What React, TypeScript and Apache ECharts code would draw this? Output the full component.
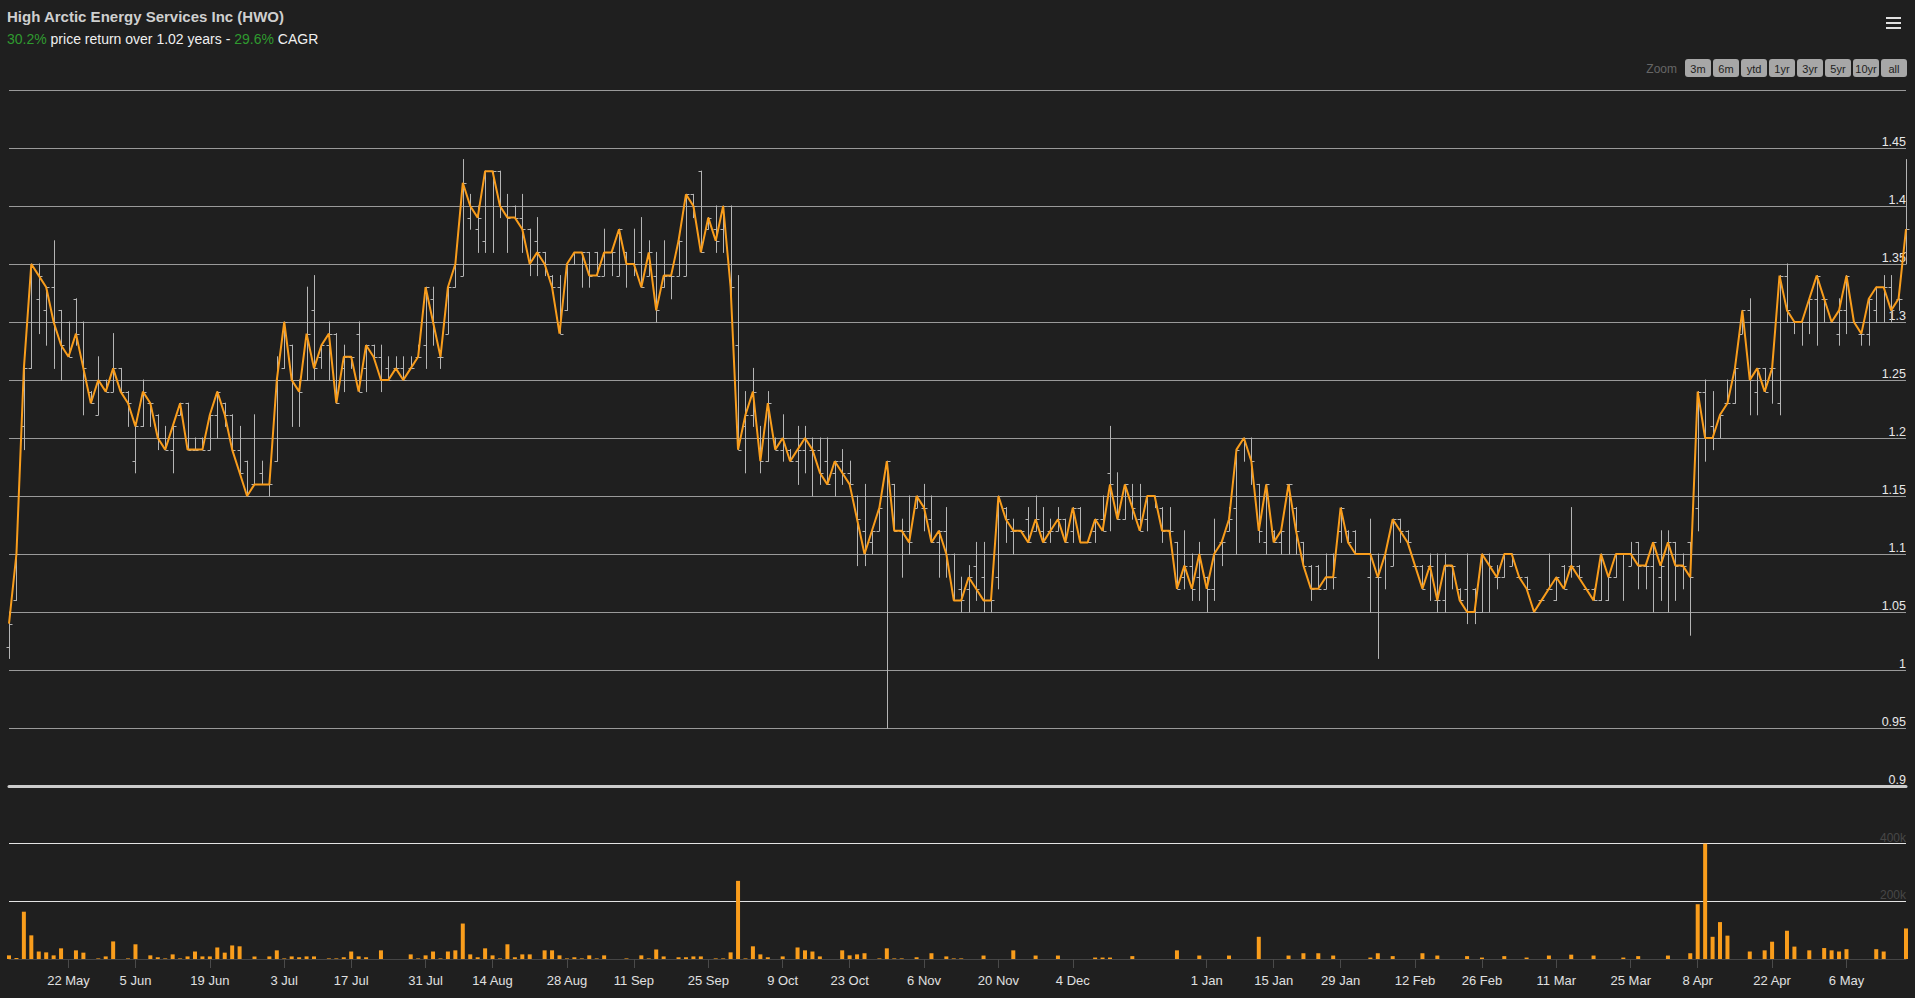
import React, { useEffect, useRef } from "react";
import * as echarts from "echarts";

const FONT = "'Liberation Sans', Arial, Helvetica, sans-serif";
const ORANGE = "#f99d1c";
const BAR_GREY = "#b4b4b4";

const chartTitle = "High Arctic Energy Services Inc (HWO)";
const priceReturn = "30.2%";
const cagr = "29.6%";
const yearsText = "1.02";

const firstDay = "2017-05-10";
const lastDay = "2018-05-17";
const marketHolidays = [
  "2017-05-22", "2017-07-03", "2017-08-07", "2017-09-04", "2017-10-09",
  "2017-12-25", "2017-12-26", "2018-01-01", "2018-02-19", "2018-03-30",
];
const noTradeDays = ["2018-01-24"];

const tickDates = [
  "2017-05-22", "2017-06-05", "2017-06-19", "2017-07-03", "2017-07-17", "2017-07-31",
  "2017-08-14", "2017-08-28", "2017-09-11", "2017-09-25", "2017-10-09", "2017-10-23",
  "2017-11-06", "2017-11-20", "2017-12-04", "2018-01-01", "2018-01-15", "2018-01-29",
  "2018-02-12", "2018-02-26", "2018-03-11", "2018-03-25", "2018-04-08", "2018-04-22",
  "2018-05-06",
];
const tickLabels = [
  "22 May", "5 Jun", "19 Jun", "3 Jul", "17 Jul", "31 Jul",
  "14 Aug", "28 Aug", "11 Sep", "25 Sep", "9 Oct", "23 Oct",
  "6 Nov", "20 Nov", "4 Dec", "1 Jan", "15 Jan", "29 Jan",
  "12 Feb", "26 Feb", "11 Mar", "25 Mar", "8 Apr", "22 Apr",
  "6 May",
];

const zoomButtons = ["3m", "6m", "ytd", "1yr", "3yr", "5yr", "10yr", "all"];

const open = [
  1.02, 1.06, 1.21, 1.26, 1.32, 1.31, 1.33, 1.31, 1.30, 1.32,
  1.30, 1.24, 1.22, 1.25, 1.24, 1.26, 1.24, 1.18, 1.21, 1.23,
  1.22, 1.20, 1.19, 1.22, 1.23, 1.19, 1.20, 1.19, 1.22, 1.23,
  1.22, 1.19, 1.18, 1.16, 1.17, 1.16, 1.18, 1.26, 1.28, 1.25,
  1.25, 1.31, 1.27, 1.28, 1.29, 1.26, 1.27, 1.29, 1.26, 1.28,
  1.27, 1.26, 1.26, 1.26, 1.26, 1.27, 1.28, 1.32, 1.27, 1.29,
  1.33, 1.34, 1.39, 1.38, 1.37, 1.43, 1.43, 1.40, 1.40, 1.39,
  1.38, 1.37, 1.36, 1.34, 1.33, 1.31, 1.35, 1.36, 1.36, 1.36,
  1.34, 1.36, 1.34, 1.36, 1.35, 1.36, 1.34, 1.34, 1.33, 1.34,
  1.34, 1.34, 1.41, 1.43, 1.38, 1.38, 1.38, 1.40, 1.28, 1.21,
  1.22, 1.20, 1.18, 1.20, 1.19, 1.19, 1.18, 1.19, 1.19, 1.19,
  1.18, 1.17, 1.18, 1.17, 1.15, 1.12, 1.11, 1.12, 1.15, 1.16,
  1.12, 1.12, 1.14, 1.14, 1.13, 1.11, 1.12, 1.10, 1.07, 1.07,
  1.09, 1.08, 1.06, 1.08, 1.14, 1.12, 1.12, 1.13, 1.12, 1.12,
  1.12, 1.12, 1.13, 1.12, 1.14, 1.11, 1.12, 1.13, 1.17, 1.15,
  1.13, 1.15, 1.13, 1.13, 1.15, 1.14, 1.12, 1.11, 1.08, 1.09,
  1.08, 1.08, 1.07, 1.11, 1.12, 1.14, 1.20, 1.20, 1.16, 1.11,
  1.12, 1.11, 1.16, 1.14, 1.11, 1.09, 1.09, 1.07, 1.10, 1.12,
  1.12, 1.12, 1.10, 1.08, 1.08, 1.10, 1.09, 1.13, 1.12, 1.09,
  1.09, 1.09, 1.06, 1.06, 1.09, 1.07, 1.07, 1.07, 1.05, 1.10,
  1.08, 1.08, 1.09, 1.08, 1.08, 1.05, 1.06, 1.07, 1.06, 1.09,
  1.09, 1.09, 1.07, 1.07, 1.06, 1.06, 1.08, 1.10, 1.09, 1.11,
  1.09, 1.09, 1.08, 1.10, 1.11, 1.09, 1.11, 1.14, 1.24, 1.21,
  1.20, 1.23, 1.23, 1.29, 1.31, 1.24, 1.26, 1.26, 1.23, 1.34,
  1.30, 1.30, 1.30, 1.32, 1.32, 1.30, 1.29, 1.31, 1.30, 1.29,
  1.29, 1.31, 1.33, 1.33, 1.32, 1.36,
];

const high = [
  1.05, 1.10, 1.27, 1.35, 1.35, 1.33, 1.37, 1.31, 1.30, 1.32,
  1.30, 1.24, 1.27, 1.25, 1.29, 1.26, 1.24, 1.21, 1.25, 1.23,
  1.22, 1.21, 1.21, 1.23, 1.23, 1.20, 1.20, 1.22, 1.24, 1.23,
  1.22, 1.21, 1.18, 1.22, 1.18, 1.16, 1.27, 1.30, 1.28, 1.25,
  1.33, 1.34, 1.28, 1.30, 1.29, 1.28, 1.27, 1.30, 1.28, 1.28,
  1.28, 1.27, 1.27, 1.27, 1.27, 1.28, 1.33, 1.33, 1.27, 1.33,
  1.35, 1.44, 1.41, 1.40, 1.43, 1.43, 1.43, 1.41, 1.40, 1.41,
  1.38, 1.39, 1.36, 1.34, 1.34, 1.35, 1.36, 1.36, 1.36, 1.36,
  1.38, 1.36, 1.38, 1.36, 1.38, 1.39, 1.37, 1.36, 1.37, 1.34,
  1.37, 1.41, 1.41, 1.43, 1.39, 1.40, 1.40, 1.40, 1.34, 1.24,
  1.26, 1.21, 1.24, 1.20, 1.22, 1.19, 1.21, 1.21, 1.20, 1.20,
  1.20, 1.18, 1.19, 1.18, 1.15, 1.16, 1.12, 1.14, 1.18, 1.16,
  1.13, 1.15, 1.15, 1.16, 1.15, 1.12, 1.14, 1.10, 1.08, 1.09,
  1.11, 1.11, 1.06, 1.15, 1.14, 1.13, 1.12, 1.14, 1.15, 1.14,
  1.13, 1.14, 1.13, 1.14, 1.14, 1.11, 1.13, 1.15, 1.21, 1.17,
  1.16, 1.16, 1.16, 1.15, 1.15, 1.14, 1.14, 1.11, 1.12, 1.10,
  1.11, 1.08, 1.13, 1.11, 1.14, 1.19, 1.20, 1.20, 1.16, 1.16,
  1.12, 1.12, 1.16, 1.14, 1.11, 1.09, 1.09, 1.10, 1.10, 1.14,
  1.12, 1.12, 1.10, 1.13, 1.10, 1.10, 1.13, 1.13, 1.12, 1.09,
  1.09, 1.10, 1.10, 1.10, 1.09, 1.07, 1.10, 1.07, 1.10, 1.10,
  1.09, 1.10, 1.10, 1.08, 1.08, 1.05, 1.06, 1.10, 1.08, 1.09,
  1.14, 1.09, 1.07, 1.07, 1.10, 1.08, 1.10, 1.10, 1.11, 1.11,
  1.09, 1.11, 1.12, 1.12, 1.11, 1.10, 1.11, 1.24, 1.25, 1.24,
  1.22, 1.25, 1.26, 1.31, 1.32, 1.26, 1.26, 1.26, 1.34, 1.35,
  1.30, 1.30, 1.32, 1.34, 1.32, 1.30, 1.32, 1.34, 1.30, 1.29,
  1.32, 1.33, 1.34, 1.34, 1.32, 1.44,
];

const low = [
  1.01, 1.06, 1.19, 1.26, 1.29, 1.28, 1.26, 1.25, 1.27, 1.28,
  1.22, 1.23, 1.22, 1.24, 1.24, 1.24, 1.21, 1.17, 1.21, 1.21,
  1.19, 1.19, 1.17, 1.22, 1.19, 1.19, 1.19, 1.19, 1.20, 1.21,
  1.19, 1.17, 1.15, 1.16, 1.16, 1.15, 1.18, 1.26, 1.21, 1.21,
  1.25, 1.25, 1.26, 1.25, 1.23, 1.24, 1.26, 1.24, 1.24, 1.27,
  1.24, 1.25, 1.26, 1.25, 1.26, 1.27, 1.26, 1.28, 1.26, 1.29,
  1.33, 1.34, 1.38, 1.36, 1.36, 1.36, 1.39, 1.36, 1.39, 1.36,
  1.34, 1.34, 1.34, 1.33, 1.29, 1.31, 1.35, 1.33, 1.33, 1.34,
  1.34, 1.34, 1.34, 1.33, 1.34, 1.33, 1.34, 1.30, 1.33, 1.32,
  1.34, 1.34, 1.39, 1.36, 1.38, 1.36, 1.36, 1.32, 1.19, 1.17,
  1.21, 1.17, 1.18, 1.19, 1.18, 1.18, 1.16, 1.17, 1.15, 1.16,
  1.16, 1.15, 1.16, 1.16, 1.09, 1.09, 1.10, 1.12, 0.95, 1.12,
  1.08, 1.10, 1.14, 1.12, 1.11, 1.08, 1.08, 1.06, 1.05, 1.05,
  1.06, 1.05, 1.05, 1.07, 1.11, 1.10, 1.12, 1.11, 1.12, 1.11,
  1.11, 1.12, 1.11, 1.11, 1.11, 1.11, 1.11, 1.12, 1.12, 1.13,
  1.13, 1.13, 1.12, 1.12, 1.14, 1.11, 1.11, 1.07, 1.07, 1.06,
  1.06, 1.05, 1.06, 1.09, 1.12, 1.10, 1.18, 1.16, 1.11, 1.10,
  1.11, 1.10, 1.10, 1.10, 1.09, 1.06, 1.07, 1.07, 1.07, 1.11,
  1.11, 1.10, 1.10, 1.05, 1.01, 1.07, 1.09, 1.11, 1.11, 1.09,
  1.07, 1.06, 1.05, 1.05, 1.07, 1.06, 1.04, 1.04, 1.05, 1.05,
  1.07, 1.08, 1.09, 1.08, 1.07, 1.05, 1.06, 1.07, 1.06, 1.07,
  1.08, 1.08, 1.07, 1.06, 1.06, 1.06, 1.08, 1.06, 1.09, 1.07,
  1.07, 1.05, 1.06, 1.05, 1.06, 1.07, 1.03, 1.12, 1.18, 1.19,
  1.20, 1.23, 1.23, 1.29, 1.22, 1.22, 1.24, 1.23, 1.22, 1.30,
  1.29, 1.28, 1.29, 1.28, 1.30, 1.30, 1.28, 1.29, 1.30, 1.28,
  1.28, 1.30, 1.30, 1.30, 1.31, 1.35,
];

const close = [
  1.04, 1.10, 1.26, 1.35, 1.34, 1.33, 1.30, 1.28, 1.27, 1.29,
  1.26, 1.23, 1.25, 1.24, 1.26, 1.24, 1.23, 1.21, 1.24, 1.23,
  1.20, 1.19, 1.21, 1.23, 1.19, 1.19, 1.19, 1.22, 1.24, 1.22,
  1.19, 1.17, 1.15, 1.16, 1.16, 1.16, 1.25, 1.30, 1.25, 1.24,
  1.29, 1.26, 1.28, 1.29, 1.23, 1.27, 1.27, 1.24, 1.28, 1.27,
  1.25, 1.25, 1.26, 1.25, 1.26, 1.27, 1.33, 1.30, 1.27, 1.33,
  1.35, 1.42, 1.40, 1.39, 1.43, 1.43, 1.40, 1.39, 1.39, 1.38,
  1.35, 1.36, 1.35, 1.33, 1.29, 1.35, 1.36, 1.36, 1.34, 1.34,
  1.36, 1.36, 1.38, 1.35, 1.35, 1.33, 1.36, 1.31, 1.34, 1.34,
  1.37, 1.41, 1.40, 1.36, 1.39, 1.37, 1.40, 1.33, 1.19, 1.22,
  1.24, 1.18, 1.23, 1.19, 1.20, 1.18, 1.19, 1.20, 1.19, 1.17,
  1.16, 1.18, 1.17, 1.16, 1.13, 1.10, 1.12, 1.14, 1.18, 1.12,
  1.12, 1.11, 1.15, 1.14, 1.11, 1.12, 1.10, 1.06, 1.06, 1.08,
  1.07, 1.06, 1.06, 1.15, 1.13, 1.12, 1.12, 1.11, 1.13, 1.11,
  1.12, 1.13, 1.11, 1.14, 1.11, 1.11, 1.13, 1.12, 1.16, 1.13,
  1.16, 1.14, 1.12, 1.15, 1.15, 1.12, 1.12, 1.07, 1.09, 1.07,
  1.10, 1.07, 1.10, 1.11, 1.13, 1.19, 1.20, 1.18, 1.12, 1.16,
  1.11, 1.12, 1.16, 1.12, 1.09, 1.07, 1.07, 1.08, 1.08, 1.14,
  1.11, 1.10, 1.10, 1.10, 1.08, 1.10, 1.13, 1.12, 1.11, 1.09,
  1.07, 1.09, 1.06, 1.09, 1.09, 1.06, 1.05, 1.05, 1.10, 1.09,
  1.08, 1.10, 1.10, 1.08, 1.07, 1.05, 1.06, 1.07, 1.08, 1.07,
  1.09, 1.08, 1.07, 1.06, 1.10, 1.08, 1.10, 1.10, 1.10, 1.09,
  1.09, 1.11, 1.09, 1.11, 1.09, 1.09, 1.08, 1.24, 1.20, 1.20,
  1.22, 1.23, 1.26, 1.31, 1.25, 1.26, 1.24, 1.26, 1.34, 1.31,
  1.30, 1.30, 1.32, 1.34, 1.32, 1.30, 1.31, 1.34, 1.30, 1.29,
  1.32, 1.33, 1.33, 1.31, 1.32, 1.38,
];

const volume = [
  12600, 3400, 164000, 82000, 26000, 23000, 12600, 37000, 0, 30000,
  22000, 0, 2000, 9000, 61000, 0, 2000, 51000, 0, 12600,
  6000, 2000, 16000, 2000, 9000, 26000, 9000, 9000, 40000, 22000,
  47000, 44000, 0, 9000, 0, 9000, 30000, 2000, 9000, 6000,
  9000, 9000, 0, 2000, 2000, 6000, 26000, 9000, 6000, 0,
  30000, 0, 0, 0, 16000, 2000, 12600, 26000, 2000, 26000,
  30000, 123000, 16000, 6000, 37000, 12600, 2000, 51000, 6000, 16000,
  16000, 0, 30000, 30000, 12600, 2000, 6000, 2000, 12600, 2000,
  12600, 0, 0, 2000, 0, 12600, 2000, 33000, 9000, 0,
  6000, 6000, 9000, 9000, 0, 2000, 2000, 23000, 271000, 2000,
  44000, 16000, 6000, 0, 9000, 0, 40000, 30000, 26000, 9000,
  0, 0, 30000, 12600, 16000, 20000, 0, 2000, 37000, 2000,
  2000, 0, 6000, 0, 20000, 0, 9000, 2000, 2000, 0,
  0, 12000, 0, 0, 0, 30000, 0, 0, 12000, 0,
  0, 12000, 0, 0, 0, 0, 5000, 5000, 5000, 0,
  0, 10000, 0, 0, 0, 0, 0, 30000, 0, 0,
  12000, 0, 0, 0, 12000, 0, 0, 0, 77000, 0,
  0, 0, 12000, 0, 20000, 0, 20000, 0, 12000, 0,
  0, 0, 0, 5000, 20000, 0, 10000, 0, 0, 0,
  20000, 0, 12000, 0, 0, 0, 10000, 0, 5000, 0,
  0, 10000, 0, 0, 5000, 0, 0, 12000, 0, 0,
  15000, 0, 0, 12000, 0, 0, 0, 5000, 0, 10000,
  0, 0, 0, 12000, 0, 0, 20000, 190000, 400000, 77000,
  128000, 81000, 0, 0, 26000, 0, 30000, 60000, 0, 98000,
  43000, 0, 30000, 0, 38000, 30000, 26000, 34000, 0, 0,
  0, 34000, 26000, 0, 0, 106000,
];

function buildTradingDays(): string[] {
  const skip = new Set([...marketHolidays, ...noTradeDays]);
  const out: string[] = [];
  const d = new Date(firstDay + "T00:00:00Z");
  const end = new Date(lastDay + "T00:00:00Z");
  while (d.getTime() <= end.getTime()) {
    const dow = d.getUTCDay();
    const iso = d.toISOString().slice(0, 10);
    if (dow !== 0 && dow !== 6 && !skip.has(iso)) out.push(iso);
    d.setUTCDate(d.getUTCDate() + 1);
  }
  return out;
}

export default function App() {
  const ref = useRef<HTMLDivElement>(null);

  useEffect(() => {
    if (!ref.current) return;
    const chart = echarts.init(ref.current, undefined, { renderer: "svg" });

    const days = buildTradingDays().slice(0, close.length);
    const labelAt = new Map<number, string>();
    tickDates.forEach((td, k) => {
      const idx = days.findIndex((d) => d >= td);
      if (idx >= 0) labelAt.set(idx, tickLabels[k]);
    });
    const showTick = (index: number) => labelAt.has(index);

    const ohlcData = close.map((c, i) => [i, open[i], high[i], low[i], c]);

    const renderOhlc = (params: any, api: any) => {
      const i = api.value(0);
      const o = api.coord([i, api.value(1)]);
      const h = api.coord([i, api.value(2)]);
      const l = api.coord([i, api.value(3)]);
      const c = api.coord([i, api.value(4)]);
      const x = Math.round(h[0]) + 0.5;
      const st = { stroke: BAR_GREY, lineWidth: 1 };
      return {
        type: "group",
        children: [
          { type: "line", shape: { x1: x, y1: h[1] - 0.5, x2: x, y2: l[1] + 0.5 }, style: st },
          { type: "line", shape: { x1: x - 3, y1: Math.round(o[1]) + 0.5, x2: x, y2: Math.round(o[1]) + 0.5 }, style: st },
          { type: "line", shape: { x1: x, y1: Math.round(c[1]) + 0.5, x2: x + 3, y2: Math.round(c[1]) + 0.5 }, style: st },
        ],
      };
    };

    const btnW = 26;
    const btnStep = 28;
    const btnX0 = 1685;
    const btnY = 59;
    const buttonEls: any[] = [];
    zoomButtons.forEach((b, k) => {
      buttonEls.push({
        type: "rect",
        shape: { x: btnX0 + k * btnStep, y: btnY, width: btnW, height: 18, r: 3 },
        style: { fill: "#a7a7a7" },
      });
      buttonEls.push({
        type: "text",
        x: btnX0 + k * btnStep + btnW / 2,
        y: btnY + 9.5,
        style: {
          text: b,
          fill: "#1e1e1e",
          font: `11px ${FONT}`,
          textAlign: "center",
          textVerticalAlign: "middle",
        },
      });
    });

    const option: any = {
      animation: false,
      backgroundColor: "#1f1f1f",
      title: [
        {
          text: chartTitle,
          left: 7,
          top: 8,
          padding: 0,
          textStyle: { color: "#cfcfcf", fontSize: 15, fontWeight: "bold", fontFamily: FONT, lineHeight: 16 },
        },
        {
          text: `{g|${priceReturn}}{w| price return over ${yearsText} years - }{g|${cagr}}{w| CAGR}`,
          left: 7,
          top: 32,
          padding: 0,
          textStyle: {
            fontSize: 14,
            fontWeight: "normal",
            fontFamily: FONT,
            lineHeight: 14,
            rich: {
              g: { color: "#2f9a2f", fontSize: 14, fontWeight: "normal", fontFamily: FONT, lineHeight: 14 },
              w: { color: "#f0f0f0", fontSize: 14, fontWeight: "normal", fontFamily: FONT, lineHeight: 14 },
            },
          },
        },
      ],
      graphic: [
        {
          type: "text",
          x: 1677,
          y: 68.5,
          style: { text: "Zoom", fill: "#666666", font: `12px ${FONT}`, textAlign: "right", textVerticalAlign: "middle" },
        },
        ...buttonEls,
        { type: "rect", shape: { x: 1886, y: 17, width: 15, height: 2 }, style: { fill: "#e0e0e0" } },
        { type: "rect", shape: { x: 1886, y: 22, width: 15, height: 2 }, style: { fill: "#e0e0e0" } },
        { type: "rect", shape: { x: 1886, y: 27, width: 15, height: 2 }, style: { fill: "#e0e0e0" } },
      ],
      grid: [
        { left: 9, right: 9, top: 90, height: 696 },
        { left: 9, right: 9, top: 786, height: 173 },
      ],
      xAxis: [
        {
          type: "category",
          gridIndex: 0,
          data: days,
          boundaryGap: false,
          z: 5,
          axisLine: { show: true, lineStyle: { color: "#cccccc", width: 3 } },
          axisTick: { show: false },
          axisLabel: { show: false },
          splitLine: { show: false },
        },
        {
          type: "category",
          gridIndex: 1,
          data: days,
          boundaryGap: false,
          axisLine: { show: true, lineStyle: { color: "#454545", width: 1 } },
          axisTick: { show: true, interval: showTick, length: 9, lineStyle: { color: "#4a4a4a" } },
          axisLabel: {
            interval: showTick,
            formatter: (_v: string, idx: number) => labelAt.get(idx) ?? "",
            color: "#e0e0e0",
            fontSize: 13,
            fontFamily: FONT,
            margin: 15,
          },
          splitLine: { show: false },
        },
      ],
      yAxis: [
        {
          type: "value",
          gridIndex: 0,
          position: "right",
          min: 0.9,
          max: 1.5,
          interval: 0.05,
          axisLine: { show: false },
          axisTick: { show: false },
          axisLabel: {
            inside: true,
            margin: 0,
            verticalAlign: "bottom",
            color: "#e8e8e8",
            fontSize: 12.5,
            fontFamily: FONT,
            showMaxLabel: false,
          },
          splitLine: { show: true, lineStyle: { color: "#9a9a9a", width: 1 } },
        },
        {
          type: "value",
          gridIndex: 1,
          position: "right",
          min: 0,
          max: 600000,
          interval: 200000,
          axisLine: { show: false },
          axisTick: { show: false },
          axisLabel: {
            inside: true,
            margin: 0,
            verticalAlign: "bottom",
            color: "#474747",
            fontSize: 12,
            fontFamily: FONT,
            showMinLabel: false,
            showMaxLabel: false,
            formatter: (v: number) => `${v / 1000}k`,
          },
          splitLine: { show: true, showMinLine: false, showMaxLine: false, lineStyle: { color: "#e4e4e4", width: 1 } },
        },
      ],
      series: [
        {
          type: "custom",
          name: "OHLC",
          xAxisIndex: 0,
          yAxisIndex: 0,
          renderItem: renderOhlc,
          data: ohlcData,
          encode: { x: 0, y: [1, 2, 3, 4] },
          z: 2,
        },
        {
          type: "line",
          name: "Close",
          xAxisIndex: 0,
          yAxisIndex: 0,
          data: close,
          showSymbol: false,
          symbol: "none",
          lineStyle: { color: ORANGE, width: 2 },
          z: 3,
        },
        {
          type: "bar",
          name: "Volume",
          xAxisIndex: 1,
          yAxisIndex: 1,
          data: volume,
          barWidth: 4,
          itemStyle: { color: ORANGE },
        },
      ],
    };

    chart.setOption(option);
    return () => chart.dispose();
  }, []);

  return (
    <div
      ref={ref}
      style={{ position: "fixed", left: 0, top: 0, width: 1915, height: 998, background: "#1f1f1f" }}
    />
  );
}
